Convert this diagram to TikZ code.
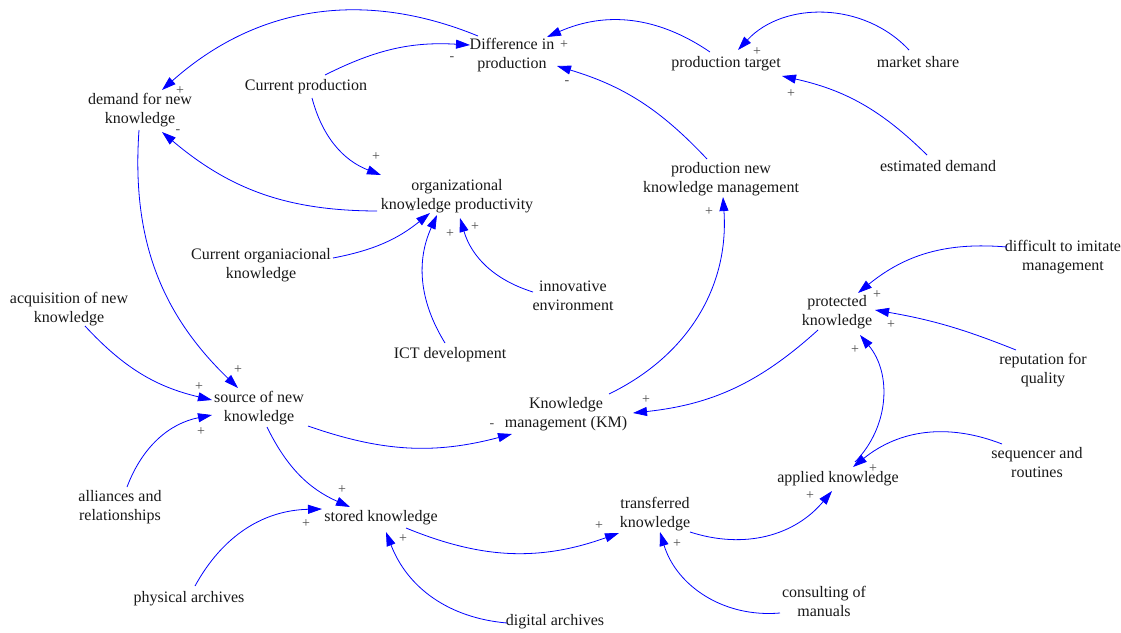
\documentclass[tikz,border=0pt]{standalone}
\usepackage{fontspec}
\setmainfont{Liberation Serif}
\usetikzlibrary{arrows.meta}
\begin{document}
\begin{tikzpicture}[x=1pt,y=-1pt,
  var/.style={align=center,inner sep=0pt,font=\fontsize{16}{19}\selectfont,text=black!90},
  pol/.style={inner sep=0pt,font=\fontsize{14}{14}\selectfont,text=black!70},
  link/.style={draw=blue,line width=0.8pt,-{Triangle[length=14pt,width=9pt]}}]
\useasboundingbox[fill=white] (0,0) rectangle (1121,632);
% variables
\node[var] (diff) at (512,55) {Difference in\\production};
\node[var] (target) at (726,64) {production target};
\node[var] (market) at (918,62) {market share};
\node[var] (estdem) at (938,166) {estimated demand};
\node[var] (demand) at (140,110) {demand for new\\knowledge};
\node[var] (curprod) at (306,87) {Current production};
\node[var] (orgprod) at (457,196) {organizational\\knowledge productivity};
\node[var] (prodkm) at (721,179) {production new\\knowledge management};
\node[var] (curorg) at (261,265) {Current organiacional\\knowledge};
\node[var] (innov) at (573,296) {innovative\\environment};
\node[var] (ict) at (450,355) {ICT development};
\node[var] (acq) at (69,309) {acquisition of new\\knowledge};
\node[var] (source) at (259,408) {source of new\\knowledge};
\node[var] (km) at (566,414) {Knowledge\\management (KM)};
\node[var] (prot) at (837,312) {protected\\knowledge};
\node[var] (difim) at (1063,257) {difficult to imitate\\management};
\node[var] (rep) at (1043,370) {reputation for\\quality};
\node[var] (seq) at (1037,463) {sequencer and\\routines};
\node[var] (applied) at (838,479) {applied knowledge};
\node[var] (alli) at (120,507) {alliances and\\relationships};
\node[var] (stored) at (381,518) {stored knowledge};
\node[var] (trans) at (655,514) {transferred\\knowledge};
\node[var] (phys) at (189,599) {physical archives};
\node[var] (digit) at (555,622) {digital archives};
\node[var] (cons) at (824,601) {consulting of\\manuals};
% links
\draw[link] ([shift={(-34,-19)}]diff.center) to[bend right=32] ([shift={(22,-20)}]demand.center);
\draw[link] ([shift={(19,-12)}]curprod.center) to[bend left=15] ([shift={(-42,-10)}]diff.center);
\draw[link] ([shift={(-16,-12)}]target.center) to[bend right=29] ([shift={(35,-18)}]diff.center);
\draw[link] ([shift={(-14,-20)}]prodkm.center) to[bend right=15] ([shift={(45,11)}]diff.center);
\draw[link] ([shift={(-9,-12)}]market.center) to[bend right=47] ([shift={(12,-14)}]target.center);
\draw[link] ([shift={(-11,-11)}]estdem.center) to[bend right=16] ([shift={(56,12)}]target.center);
\draw[link] ([shift={(-1,20)}]demand.center) to[bend right=25] ([shift={(-21,-20)}]source.center);
\draw[link] ([shift={(6,11)}]curprod.center) to[bend right=27] ([shift={(-76,-21)}]orgprod.center);
\draw[link] ([shift={(-80,15)}]orgprod.center) to[bend left=20] ([shift={(22,22)}]demand.center);
\draw[link] ([shift={(72,-7)}]curorg.center) to[bend right=14] ([shift={(-27,17)}]orgprod.center);
\draw[link] ([shift={(-5,-12)}]ict.center) to[bend left=28] ([shift={(-20,19)}]orgprod.center);
\draw[link] ([shift={(-40,-4)}]innov.center) to[bend left=28] ([shift={(3,22)}]orgprod.center);
\draw[link] ([shift={(43,-20)}]km.center) to[bend right=34] ([shift={(2,18)}]prodkm.center);
\draw[link] ([shift={(16,17)}]acq.center) to[bend right=17] ([shift={(-47,-8)}]source.center);
\draw[link] ([shift={(7,-20)}]alli.center) to[bend left=29] ([shift={(-47,7)}]source.center);
\draw[link] ([shift={(49,18)}]source.center) to[bend right=17] ([shift={(-54,20)}]km.center);
\draw[link] ([shift={(-19,18)}]prot.center) to[bend left=18] ([shift={(67,-1)}]km.center);
\draw[link] ([shift={(-56,-10)}]difim.center) to[bend right=22] ([shift={(21,-19)}]prot.center);
\draw[link] ([shift={(-27,-20)}]rep.center) to[bend right=6] ([shift={(38,-2)}]prot.center);
\draw[link] ([shift={(17,-17)}]applied.center) to[bend right=42] ([shift={(23,23)}]prot.center);
\draw[link] ([shift={(-35,-19)}]seq.center) to[bend right=30] ([shift={(15,-12)}]applied.center);
\draw[link] ([shift={(35,18)}]trans.center) to[bend right=34] ([shift={(-6,12)}]applied.center);
\draw[link] ([shift={(8,19)}]source.center) to[bend right=20] ([shift={(-31,-11)}]stored.center);
\draw[link] ([shift={(6,-13)}]phys.center) to[bend left=30] ([shift={(-59,-9)}]stored.center);
\draw[link] ([shift={(25,10)}]stored.center) to[bend right=21] ([shift={(-36,19)}]trans.center);
\draw[link] ([shift={(-48,1)}]digit.center) to[bend left=32] ([shift={(5,14)}]stored.center);
\draw[link] ([shift={(-44,12)}]cons.center) to[bend left=39] ([shift={(5,18)}]trans.center);
% polarities
\node[pol] (p1) at (180,91) {+};
\node[pol] (p2) at (452,59) {-};
\node[pol] (p3) at (564,45) {+};
\node[pol] (p4) at (567,83) {-};
\node[pol] (p5) at (757,52) {+};
\node[pol] (p6) at (791,94) {+};
\node[pol] (p7) at (238,370) {+};
\node[pol] (p8) at (376,157) {+};
\node[pol] (p9) at (178,132) {-};
\node[pol] (p10) at (412,212) {-};
\node[pol] (p11) at (450,234) {+};
\node[pol] (p12) at (475,227) {+};
\node[pol] (p13) at (709,212) {+};
\node[pol] (p14) at (199,387) {+};
\node[pol] (p15) at (201,432) {+};
\node[pol] (p16) at (492,426) {-};
\node[pol] (p17) at (646,400) {+};
\node[pol] (p18) at (877,295) {+};
\node[pol] (p19) at (891,325) {+};
\node[pol] (p20) at (855,350) {+};
\node[pol] (p21) at (873,469) {+};
\node[pol] (p22) at (810,496) {+};
\node[pol] (p23) at (342,490) {+};
\node[pol] (p24) at (306,524) {+};
\node[pol] (p25) at (599,526) {+};
\node[pol] (p26) at (403,539) {+};
\node[pol] (p27) at (677,544) {+};
\end{tikzpicture}
\end{document}
